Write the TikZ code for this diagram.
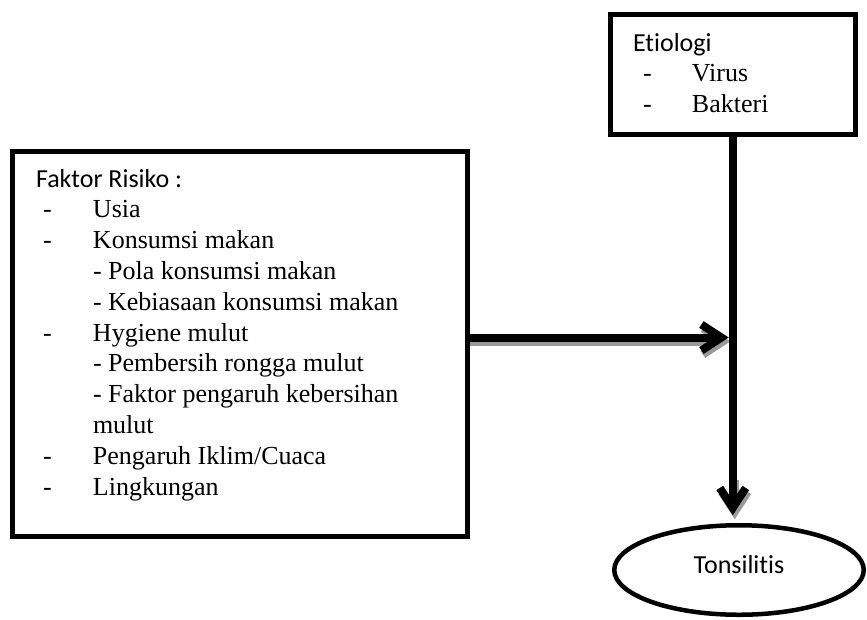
\documentclass[tikz,border=0pt]{standalone}
\usepackage{fontspec}
\setmainfont{Liberation Serif}
\newfontfamily\calibri[Ligatures={NoCommon}]{Carlito}
\usetikzlibrary{arrows.meta,shapes.geometric,calc}
\begin{document}
\begin{tikzpicture}[x=1pt,y=-1pt,
  boxnode/.style={draw, rectangle, line width=5pt, inner sep=0pt, outer sep=0pt},
  txt/.style={inner sep=0pt, outer sep=0pt, font=\fontsize{26pt}{30.8pt}\selectfont},
  conn/.style={line width=8pt, -{Straight Barb[length=20pt,width=26pt]}},
  shadowconn/.style={conn, draw=black!40}
]
\useasboundingbox (0,0) rectangle (867,619);
% boxes
\node[boxnode, minimum width=455pt, minimum height=384.5pt] (faktor) at (240,343.75) {};
\node[boxnode, minimum width=245.5pt, minimum height=120pt] (etio) at (732.75,74) {};
\node[draw, ellipse, line width=4.5pt, inner sep=0pt, outer sep=0pt,
      minimum width=249.5pt, minimum height=89.5pt,
      font=\calibri\fontsize{26pt}{30.8pt}\selectfont,
      text height=18pt, text depth=12pt] (ton) at (739,570) {Tonsilitis};
% texts
\node[txt, anchor=base west] (ftext) at (36,187) {%
\begin{tabular}[t]{@{\hspace{7pt}}p{50pt}@{}l@{}}
\multicolumn{2}{@{}l@{}}{\calibri Faktor Risiko :}\\
- & Usia\\
- & Konsumsi makan\\
  & - Pola konsumsi makan\\
  & - Kebiasaan konsumsi makan\\
- & Hygiene mulut\\
  & - Pembersih rongga mulut\\
  & - Faktor pengaruh kebersihan\\
  & mulut\\
- & Pengaruh Iklim/Cuaca\\
- & Lingkungan
\end{tabular}};
\node[txt, anchor=base west] (etext) at (633,51) {%
\begin{tabular}[t]{@{\hspace{10pt}}p{49pt}@{}l@{}}
\multicolumn{2}{@{}l@{}}{\calibri Etiologi}\\
- & Virus\\
- & Bakteri
\end{tabular}};
% connectors
\coordinate (j) at (732.75,337.5);
\coordinate (vend) at (etio.south |- ton.north);
\draw[shadowconn] ($(j -| faktor.east)+(2.5,4)$) -- ($(j)+(-2.5,4)$);
\draw[shadowconn] ($(vend)+(2,-45)$) -- ($(vend)+(2,-6)$);
\draw[conn, shorten >=4pt] (j -| faktor.east) -- (j);
\draw[conn, shorten >=10pt] (etio.south) -- (vend);
\end{tikzpicture}
\end{document}
